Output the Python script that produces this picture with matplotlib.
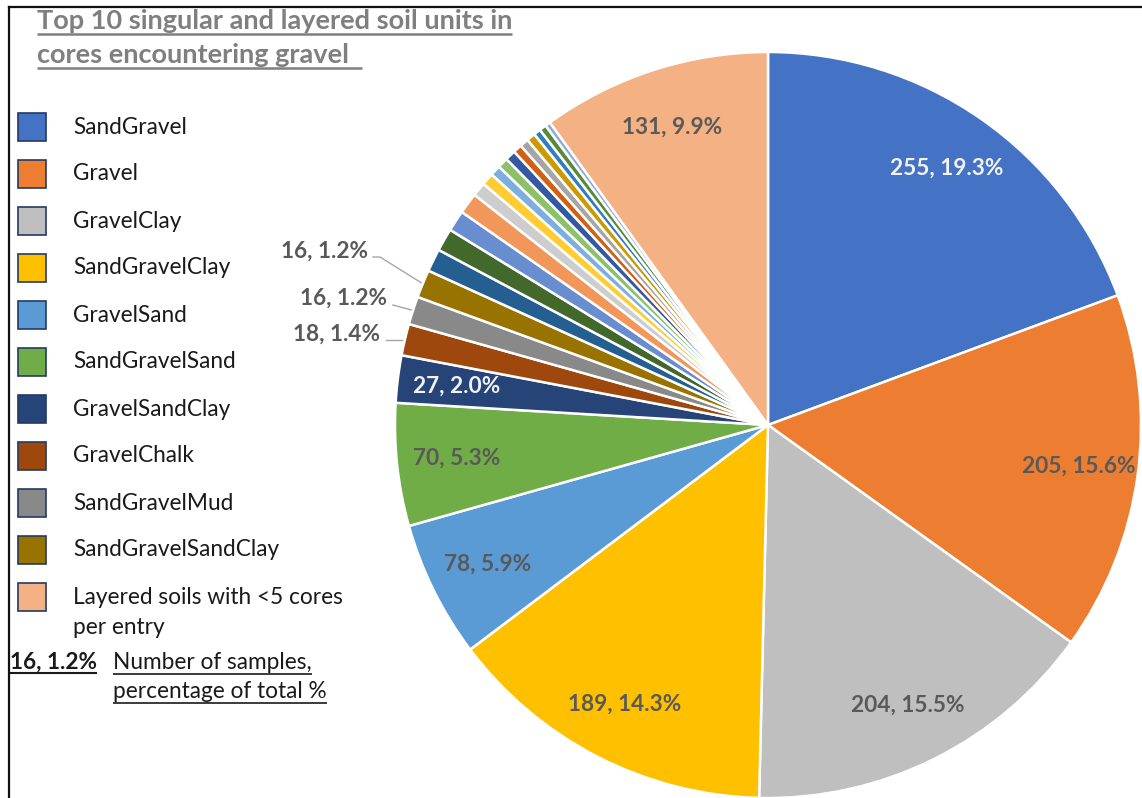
import matplotlib
matplotlib.use("Agg")
import numpy as np
import matplotlib.pyplot as plt
from matplotlib.patches import Rectangle

plt.rcParams['font.family'] = ['Lato', 'DejaVu Sans']

# soil units with their own legend entry
named_units = ['SandGravel', 'Gravel', 'GravelClay', 'SandGravelClay', 'GravelSand',
               'SandGravelSand', 'GravelSandClay', 'GravelChalk', 'SandGravelMud',
               'SandGravelSandClay']
named_counts = [255, 205, 204, 189, 78, 70, 27, 18, 16, 16]
named_colors = ['#4472C4', '#ED7D31', '#BFBFBF', '#FFC000', '#5B9BD5',
                '#70AD47', '#264478', '#9E480E', '#898989', '#997300']

# remaining singular units (not in legend)
minor_counts = [13, 13, 12, 12, 8, 7, 6, 6, 6, 5, 5, 5, 4, 4, 3]
minor_colors = ['#255E91', '#43682B', '#698ED0', '#F1975A', '#CDCDCD', '#FFCD33',
                '#7CAFDD', '#8CC168', '#335AA1', '#D26012', '#A5A5A5', '#CC9A00',
                '#327DC2', '#5A8A39', '#8FAADC']

other_label = 'Layered soils with <5 cores\nper entry'
other_count = 131
other_color = '#F4B183'

title_lines = ['Top 10 singular and layered soil units in', 'cores encountering gravel  ']
note_lines = ['Number of samples,', 'percentage of total %']

counts = named_counts + minor_counts + [other_count]
colors = named_colors + minor_colors + [other_color]
total = sum(counts)

W, H = 1142, 798
fig = plt.figure(figsize=(W / 100, H / 100), dpi=100)

# background axes in pixel units for title, legend and notes
bg = fig.add_axes([0, 0, 1, 1])
bg.set_xlim(0, W)
bg.set_ylim(H, 0)
bg.axis('off')

# pie axes
cx, cy, R = 768, 425, 373
ax = fig.add_axes([(cx - R) / W, (H - cy - R) / H, 2 * R / W, 2 * R / H])
wedges, _ = ax.pie(counts, colors=colors, startangle=90, counterclock=False,
                   wedgeprops=dict(edgecolor='white', linewidth=1.8))
ax.set_xlim(-1, 1)
ax.set_ylim(-1, 1)
ax.axis('off')

GREY = '#595959'
fs = 16.3


def lab(v):
    return f"{v}, {v / total * 100:.1f}%"


def mid_point(w, r):
    ang = np.deg2rad((w.theta1 + w.theta2) / 2)
    return r * np.cos(ang), r * np.sin(ang)


# labels inside the big slices
inside = list(range(7)) + [len(counts) - 1]
for i in inside:
    x, y = mid_point(wedges[i], 0.84)
    col = '#F2F2F2' if i in (0, 6) else GREY
    ax.text(x, y, lab(counts[i]), ha='center', va='center', fontsize=fs,
            fontweight='bold', color=col)

fig.canvas.draw()
to_px = lambda p: bg.transData.inverted().transform(ax.transData.transform(p))

# labels outside with leader lines
outside = {7: ((380, 334), [(386, None)]),
           8: ((387, 298), [(393, 305)]),
           9: ((368, 251), [(380, 257), (373, 257)])}
for i, (tpos, pts) in outside.items():
    rx, ry = to_px(mid_point(wedges[i], 1.0))
    xs, ys = [rx], [ry]
    for px_, py_ in pts:
        xs.append(px_)
        ys.append(ry if py_ is None else py_)
    bg.plot(xs, ys, color='#A6A6A6', lw=1.0)
    bg.text(tpos[0], tpos[1], lab(counts[i]), ha='right', va='center', fontsize=fs,
            fontweight='bold', color=GREY)

renderer = fig.canvas.get_renderer()


def underlined(x, base, s, color, lw, pad, **kw):
    t = bg.text(x, base, s, ha='left', va='baseline', color=color, **kw)
    bb = t.get_window_extent(renderer)
    x0, x1 = bg.transData.inverted().transform([[bb.x0, 0], [bb.x1, 0]])[:, 0]
    bg.plot([x0, x1], [base + pad, base + pad], color=color, lw=lw, solid_capstyle='butt')


# title
for k, line in enumerate(title_lines):
    underlined(37, 29 + k * 34, line, '#7F7F7F', 1.8, 4.5, fontsize=19.5, fontweight='bold')

# legend
rows = [127 + 47 * k for k in range(len(named_units) + 1)]
labels = named_units + [other_label]
leg_colors = named_colors + [other_color]
for y, name, c in zip(rows, labels, leg_colors):
    bg.add_patch(Rectangle((18, y - 14), 28, 28, facecolor=c, edgecolor='#243A63', lw=1.2))
    for k, part in enumerate(name.split('\n')):
        bg.text(73, y + k * 30, part, ha='left', va='center', fontsize=fs, color='#1A1A1A')

# note explaining the labels
underlined(10, 669, '16, 1.2%', '#1A1A1A', 1.5, 4, fontsize=fs, fontweight='bold')
for k, line in enumerate(note_lines):
    underlined(113, 669 + k * 29, line, '#1A1A1A', 1.2, 5, fontsize=fs)

# frame edges
bg.plot([8.5, 8.5], [6.5, H], color='#111111', lw=1.6)
bg.plot([8.5, W], [6.5, 6.5], color='#111111', lw=1.6)

fig.savefig('out.png', dpi=100)
